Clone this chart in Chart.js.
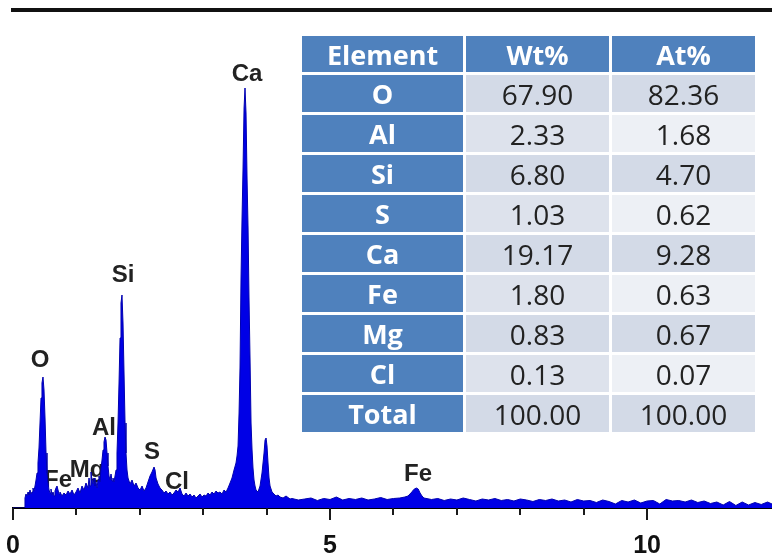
<!DOCTYPE html>
<html><head><meta charset="utf-8">
<script src="https://cdn.jsdelivr.net/npm/chart.js@4.4.1/dist/chart.umd.min.js"></script>
<style>
html,body{margin:0;padding:0;background:#fff;}
#wrap{position:relative;width:772px;height:556px;overflow:hidden;background:#fff;}
#c{position:absolute;left:0;top:0;}
#tbl{position:absolute;left:299px;top:33px;border-collapse:separate;border-spacing:3px;font-family:'Open Sans',sans-serif;}
#tbl td,#tbl th{padding:0;text-align:center;line-height:1;white-space:nowrap;}
#tbl th{background:#4F81BD;color:#fff;font-weight:700;font-size:27px;height:36px;}
#tbl td{height:37px;font-size:28px;color:#222;}
#tbl td.el{background:#4F81BD;color:#fff;font-weight:700;font-size:27px;}
#tbl tr.odd td.wt{background:#D3DAE7;}
#tbl tr.odd td.at{background:#D3DAE7;}
#tbl tr.even td.wt{background:#DDE2EC;}
#tbl tr.even td.at{background:#EDF0F5;}
</style>
</head><body>
<div id="wrap">
<canvas id="c" width="772" height="556"></canvas>
<table id="tbl"><thead><tr id="hdr"></tr></thead><tbody id="tb"></tbody></table>
</div>
<script>
// ---- Data ----
const tableHeaders = ['Element', 'Wt%', 'At%'];
const elements = ['O', 'Al', 'Si', 'S', 'Ca', 'Fe', 'Mg', 'Cl', 'Total'];
const wtPct = ['67.90', '2.33', '6.80', '1.03', '19.17', '1.80', '0.83', '0.13', '100.00'];
const atPct = ['82.36', '1.68', '4.70', '0.62', '9.28', '0.63', '0.67', '0.07', '100.00'];

const xTickLabels = [0, 5, 10];

const peakLabels = ['O', 'Fe', 'Mg', 'Al', 'Si', 'S', 'Cl', 'Ca', 'Fe'];
const peakLabelKeV = [0.426, 0.710, 1.167, 1.435, 1.735, 2.192, 2.587, 3.691, 6.388];
const peakLabelCounts = [1480, 280, 380, 800, 2330, 560, 260, 4340, 340];

// spectrum: [energy keV, counts]
const spectrum = [
 [0,0],[0.174,0],[0.189,100],[0.205,140],[0.221,120],[0.237,160],[0.252,130],[0.268,180],[0.284,140],[0.300,160],
 [0.315,200],[0.331,170],[0.347,220],[0.363,280],[0.379,350],[0.394,450],[0.410,600],[0.426,850],[0.442,1100],[0.457,1250],
 [0.473,1310],[0.489,1180],[0.505,900],[0.521,550],[0.536,350],[0.552,250],[0.568,180],[0.584,150],[0.599,190],[0.615,130],
 [0.631,160],[0.647,120],[0.662,170],[0.678,200],[0.694,220],[0.710,180],[0.726,140],[0.741,160],[0.773,120],[0.804,150],
 [0.836,130],[0.868,170],[0.899,140],[0.931,180],[0.962,130],[0.994,160],[1.025,200],[1.057,150],[1.088,220],[1.120,180],
 [1.151,250],[1.183,200],[1.199,300],[1.215,220],[1.230,360],[1.246,280],[1.262,240],[1.278,300],[1.293,220],[1.309,260],
 [1.325,200],[1.341,280],[1.356,320],[1.372,260],[1.388,400],[1.404,480],[1.420,580],[1.435,660],[1.451,710],[1.467,680],
 [1.483,550],[1.498,420],[1.514,320],[1.530,280],[1.546,340],[1.562,270],[1.577,300],[1.593,260],[1.609,320],[1.625,380],
 [1.640,550],[1.656,850],[1.672,1250],[1.688,1700],[1.703,2050],[1.719,2130],[1.735,1850],[1.751,1350],[1.767,850],[1.782,550],
 [1.798,380],[1.814,300],[1.845,240],[1.877,280],[1.909,220],[1.940,250],[1.972,200],[2.003,180],[2.035,220],[2.066,170],
 [2.098,200],[2.129,260],[2.161,320],[2.192,360],[2.224,410],[2.240,380],[2.256,300],[2.287,240],[2.319,200],[2.350,180],
 [2.382,150],[2.413,170],[2.445,140],[2.476,160],[2.508,130],[2.539,150],[2.571,180],[2.603,160],[2.634,200],[2.666,140],
 [2.697,120],[2.729,150],[2.760,120],[2.792,140],[2.823,110],[2.855,130],[2.886,100],[2.918,120],[2.950,140],[2.981,110],
 [3.013,130],[3.044,120],[3.076,150],[3.107,130],[3.139,160],[3.170,140],[3.202,170],[3.233,150],[3.265,160],[3.297,140],
 [3.328,180],[3.360,160],[3.391,200],[3.423,250],[3.454,300],[3.486,380],[3.517,450],[3.533,520],[3.549,620],[3.565,950],
 [3.580,1400],[3.596,2300],[3.612,2900],[3.628,3400],[3.644,4000],[3.659,4200],[3.675,3950],[3.691,3300],[3.707,2800],[3.722,2100],
 [3.738,1500],[3.754,850],[3.770,580],[3.785,400],[3.801,280],[3.817,220],[3.833,180],[3.864,160],[3.896,220],[3.927,350],
 [3.959,550],[3.975,680],[3.991,700],[4.006,620],[4.022,450],[4.038,300],[4.054,220],[4.085,160],[4.117,140],[4.148,120],
 [4.180,130],[4.211,110],[4.259,100],[4.306,120],[4.369,90],
 [4.4,95],[4.5,80],[4.6,90],[4.7,100],[4.8,75],[4.9,95],[5.0,85],[5.1,110],[5.2,80],[5.3,95],
 [5.4,85],[5.5,100],[5.6,80],[5.7,90],[5.8,105],[5.9,85],[6.0,95],[6.1,100],
 [6.18,110],[6.23,120],[6.26,140],[6.29,160],[6.32,185],[6.36,200],[6.39,190],[6.42,150],[6.45,120],[6.48,100],
 [6.6,85],[6.7,95],[6.8,75],[6.9,90],[7.0,80],[7.1,100],[7.2,85],[7.3,70],[7.4,90],[7.5,80],
 [7.6,95],[7.7,75],[7.8,85],[7.9,70],[8.0,90],[8.1,80],[8.2,65],[8.3,85],[8.4,75],[8.5,90],
 [8.6,70],[8.7,80],[8.8,60],[8.9,85],[9.0,70],[9.1,75],[9.2,55],[9.3,80],[9.4,65],[9.5,40],
 [9.6,75],[9.7,60],[9.8,80],[9.9,50],[10.0,70],[10.1,75],[10.2,40],[10.3,85],[10.4,70],[10.5,75],
 [10.6,60],[10.7,80],[10.8,55],[10.9,70],[11.0,45],[11.1,60],[11.2,30],[11.3,65],[11.4,25],[11.5,60],
 [11.6,30],[11.7,55],[11.8,35],[11.9,60],[11.97,40]
];

// ---- Table ----
const hdr = document.getElementById('hdr');
tableHeaders.forEach((h, i) => {
  const th = document.createElement('th');
  th.textContent = h;
  th.style.width = (i === 0 ? 161 : 143) + 'px';
  hdr.appendChild(th);
});
const tb = document.getElementById('tb');
elements.forEach((el, i) => {
  const tr = document.createElement('tr');
  tr.className = i % 2 === 0 ? 'odd' : 'even';
  const c0 = document.createElement('td'); c0.className = 'el'; c0.textContent = el;
  const c1 = document.createElement('td'); c1.className = 'wt'; c1.textContent = wtPct[i];
  const c2 = document.createElement('td'); c2.className = 'at'; c2.textContent = atPct[i];
  tr.append(c0, c1, c2);
  tb.appendChild(tr);
});

// ---- Chart ----
const tickPlugin = {
  id: 'keVTicks',
  afterDraw(chart) {
    const xs = chart.scales.x, ctx = chart.ctx, b = chart.chartArea.bottom;
    ctx.save();
    ctx.strokeStyle = '#1a1a1a';
    ctx.lineWidth = 2;
    xs.ticks.forEach(t => {
      if (!Number.isInteger(t.value)) return;
      const px = Math.round(xs.getPixelForValue(t.value));
      const len = t.value % 5 === 0 ? 12 : 7;
      ctx.beginPath(); ctx.moveTo(px, b); ctx.lineTo(px, b + len); ctx.stroke();
    });
    ctx.restore();
  }
};
const peakLabelPlugin = {
  id: 'peakLabels',
  beforeDatasetsDraw(chart) {
    const xs = chart.scales.x, ys = chart.scales.y, ctx = chart.ctx;
    ctx.save();
    ctx.font = 'bold 24px "Liberation Sans", Arial, sans-serif';
    ctx.fillStyle = '#222';
    ctx.textAlign = 'center';
    ctx.textBaseline = 'middle';
    peakLabels.forEach((lab, i) => {
      ctx.fillText(lab, xs.getPixelForValue(peakLabelKeV[i]), ys.getPixelForValue(peakLabelCounts[i]));
    });
    ctx.restore();
  }
};

new Chart(document.getElementById('c'), {
  type: 'line',
  data: {
    datasets: [{
      data: spectrum.map(p => ({x: p[0], y: p[1]})),
      fill: 'origin',
      backgroundColor: '#0000E6',
      borderColor: '#0000B0',
      borderWidth: 1,
      pointRadius: 0,
      tension: 0
    }]
  },
  options: {
    responsive: false,
    animation: false,
    devicePixelRatio: 1,
    layout: {padding: {left: 13, right: 0, top: 10, bottom: 0}},
    plugins: {legend: {display: false}, tooltip: {enabled: false}},
    scales: {
      x: {
        type: 'linear', position: 'bottom', min: 0, max: 11.97,
        border: {display: true, color: '#000', width: 2},
        grid: {display: true, drawOnChartArea: false, drawTicks: true, tickLength: 29, tickColor: 'rgba(0,0,0,0)'},
        ticks: {
          stepSize: 1, autoSkip: false, maxRotation: 0, padding: 0, color: '#111',
          font: {family: '"Liberation Sans", Arial, sans-serif', size: 25, weight: 'bold', lineHeight: 0.76},
          callback: v => xTickLabels.includes(v) ? String(v) : ''
        }
      },
      x2: {
        type: 'linear', position: 'top', min: 0, max: 11.97,
        border: {display: true, color: '#111', width: 4},
        grid: {display: false, drawTicks: false},
        ticks: {display: false}
      },
      y: {display: false, min: 0, max: 4980}
    }
  },
  plugins: [tickPlugin, peakLabelPlugin]
});
</script>
</body></html>
